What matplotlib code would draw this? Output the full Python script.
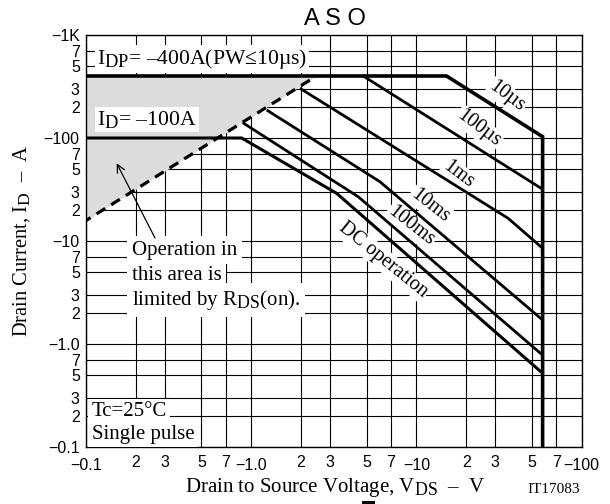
import matplotlib
matplotlib.use('Agg')
import matplotlib.pyplot as plt
from matplotlib.ticker import FixedLocator, FixedFormatter
from matplotlib.patches import Rectangle
try:
    import matplotlib._mathtext as _mt
    _mt.SHRINK_FACTOR = 0.85
except Exception:
    pass

plt.rcParams['mathtext.fontset'] = 'custom'
plt.rcParams['mathtext.rm'] = 'Liberation Serif'
plt.rcParams['mathtext.it'] = 'Liberation Serif:italic'
plt.rcParams['mathtext.bf'] = 'Liberation Serif:bold'

# ---------------- data (absolute values; labels show negative polarity) ----
x_major = [0.1, 1, 10, 100]
x_major_labels = ['\u22120.1', '\u22121.0', '\u221210', '\u2212100']
x_minor = [0.2, 0.3, 0.5, 0.7, 2, 3, 5, 7, 20, 30, 50, 70]
x_minor_labels = ['2', '3', '5', '7'] * 3

y_major = [0.1, 1, 10, 100, 1000]
y_major_labels = ['\u22120.1', '\u22121.0', '\u221210', '\u2212100', '\u22121K']
y_minor = [0.2, 0.3, 0.5, 0.7, 2, 3, 5, 7, 20, 30, 50, 70, 200, 300, 500, 700]
y_minor_labels = ['2', '3', '5', '7'] * 4

# RDS(on) limit (dashed) and shaded region
rds_v = [0.1, 2.48]
rds_i = [15.8, 400]
idp_limit = 400

# outer boundary: IDP line, 10us line and VDSS limit
b10us_v = [0.1, 15.2, 58, 58]
b10us_i = [400, 400, 103, 0.1]

c100us_v = [4.76, 58]
c100us_i = [400, 31.8]

c1ms_v = [1.97, 35.9, 58]
c1ms_i = [304, 16.6, 8.5]

c10ms_v = [1.24, 6.0, 58]
c10ms_i = [187, 37.7, 1.71]

c100ms_v = [0.887, 4.44, 58]
c100ms_i = [141, 26.9, 0.78]

cdc_v = [0.1, 0.875, 3.29, 58]
cdc_i = [100, 100, 29, 0.52]

# ---------------- figure -----------------------------------------------
W, H = 610, 504
fig = plt.figure(figsize=(W / 100, H / 100), dpi=100)
L, R, T, B = 86, 581.7, 35, 447
ax = fig.add_axes([L / W, 1 - B / H, (R - L) / W, (B - T) / H])
ax.set_xscale('log')
ax.set_yscale('log')
ax.set_xlim(0.1, 100)
ax.set_ylim(0.1, 1000)

def af(px, py):
    return ((px - L) / (R - L), (B - py) / (B - T))

ax.xaxis.set_major_locator(FixedLocator(x_major))
ax.xaxis.set_major_formatter(FixedFormatter(x_major_labels))
ax.xaxis.set_minor_locator(FixedLocator(x_minor))
ax.xaxis.set_minor_formatter(FixedFormatter(x_minor_labels))
ax.yaxis.set_major_locator(FixedLocator(y_major))
ax.yaxis.set_major_formatter(FixedFormatter(y_major_labels))
ax.yaxis.set_minor_locator(FixedLocator(y_minor))
ax.yaxis.set_minor_formatter(FixedFormatter(y_minor_labels))

for lab in ax.get_xticklabels(which='both') + ax.get_yticklabels(which='both'):
    lab.set_fontfamily('Liberation Sans')
    lab.set_fontsize(11.5)
ax.tick_params(axis='both', which='both', length=0, labelsize=11.5)
ax.tick_params(axis='x', which='major', pad=8)
ax.tick_params(axis='x', which='minor', pad=5.5)
ax.tick_params(axis='y', which='both', pad=4.5)

ax.grid(True, which='both', color='black', lw=0.8, zorder=0)
ax.set_axisbelow(True)
for s in ax.spines.values():
    s.set_linewidth(1.0)

# shaded RDS(on) region and dashed limit
ax.fill_between(rds_v, rds_i, idp_limit, color='#dcdcdc', lw=0, zorder=1)
ax.plot(rds_v, rds_i, color='black', lw=2.3, ls=(1.5, (3.2, 2.2)), zorder=4,
        solid_capstyle='butt', dash_capstyle='butt')

kw = dict(color='black', solid_capstyle='butt', solid_joinstyle='miter', zorder=4)
ax.plot(b10us_v, b10us_i, lw=2.6, **kw)
ax.plot(c100us_v, c100us_i, lw=2.0, **kw)
ax.plot(c1ms_v, c1ms_i, lw=2.0, **kw)
ax.plot(c10ms_v, c10ms_i, lw=2.0, **kw)
ax.plot(c100ms_v, c100ms_i, lw=2.0, **kw)
ax.plot(cdc_v, cdc_i, lw=2.2, **kw)

serif = 'Liberation Serif'
box = dict(fc='white', ec='none', pad=1.5)

ax.text(*af(97, 64), 'I$_{\\mathrm{DP}}$= \u2013400A(PW\u226410\u00b5s)',
        transform=ax.transAxes, family=serif, fontsize=15.6, va='baseline', ha='left',
        bbox=box, zorder=3)
ax.text(*af(97, 125), 'I$_{\\mathrm{D}}$= \u2013100A', transform=ax.transAxes,
        family=serif, fontsize=15.6, va='baseline', ha='left', bbox=box, zorder=3)

for txt, py in [('Operation in', 254.5), ('this area is', 280),
                ('limited by R$_{\\mathrm{DS}}$(on).', 305)]:
    ax.text(*af(131.5, py), txt, transform=ax.transAxes, family=serif, fontsize=15,
            va='baseline', ha='left', bbox=dict(fc='white', ec='none', pad=3.5), zorder=3)

ax.annotate('', xy=af(116.7, 163.3), xytext=af(155, 238), xycoords='axes fraction',
            textcoords='axes fraction',
            arrowprops=dict(arrowstyle='->', color='black', lw=0.9,
                            mutation_scale=14, shrinkA=0, shrinkB=0), zorder=5)

ax.text(*af(91.5, 416.5), 'Tc=25\u00b0C', transform=ax.transAxes, family=serif,
        fontsize=15, va='baseline', ha='left', bbox=dict(fc='white', ec='none', pad=2.5), zorder=3)
ax.text(*af(91.5, 438.5), 'Single pulse', transform=ax.transAxes, family=serif,
        fontsize=15, va='baseline', ha='left', bbox=dict(fc='white', ec='none', pad=2.5), zorder=3)

rot_labels = [('10\u00b5s', 506.7, 96.7, -37), ('100\u00b5s', 478.3, 128.3, -37),
              ('1ms', 458.3, 175, -37), ('10ms', 430, 205.5, -38),
              ('100ms', 410.8, 226, -38), ('DC operation', 383, 260, -39)]
for txt, px, py, rot in rot_labels:
    ax.text(*af(px, py), txt, transform=ax.transAxes, family=serif, fontsize=14.5,
            rotation=rot, rotation_mode='anchor', ha='center', va='center',
            bbox=dict(fc='white', ec='none', pad=1.0), zorder=3)

# titles and axis labels
fig.text(335 / W, 1 - 25 / H, 'A S O', family='Liberation Sans', fontsize=17,
         ha='center', va='baseline')
fig.text(335 / W, 1 - 492 / H, 'Drain to Source Voltage, V$_{\\mathrm{DS}}$  \u2013  V',
         family=serif, fontsize=15, ha='center', va='baseline')
fig.text(22 / W, 1 - 241 / H, 'Drain Current, I$_{\\mathrm{D}}$  \u2013  A',
         family=serif, fontsize=14.8, ha='center', va='center', rotation=90)
fig.text(527 / W, 1 - 493 / H, 'IT17083', family=serif, fontsize=11,
         ha='left', va='baseline')
fig.patches.append(Rectangle((362 / W, 0), 13 / W, 3 / H, transform=fig.transFigure,
                             fc='black', ec='none'))

fig.savefig('out.png', dpi=100)
